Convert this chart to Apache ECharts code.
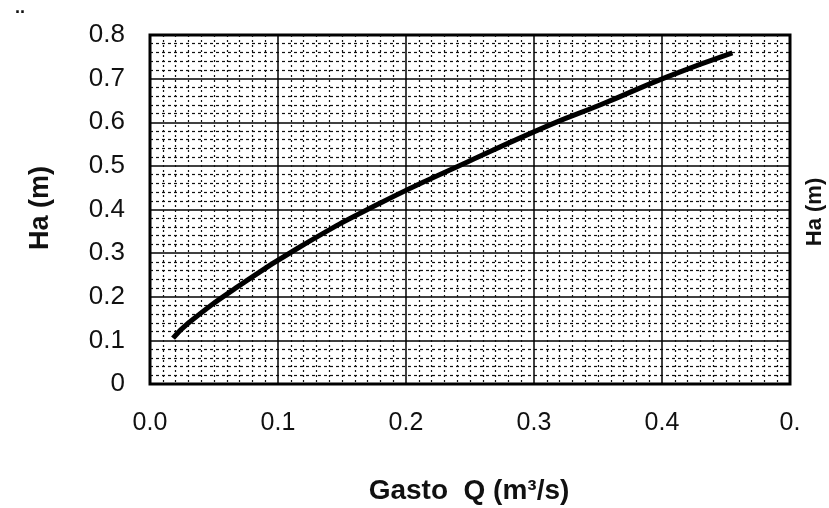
<!DOCTYPE html>
<html>
<head>
<meta charset="utf-8">
<script src="https://cdn.jsdelivr.net/npm/echarts@6/dist/echarts.min.js"></script>
<style>
  html, body { margin: 0; padding: 0; background: #fff; }
  #main { width: 829px; height: 508px; }
</style>
</head>
<body>
<div id="main"></div>
<script>
// Gasto Q (m3/s) vs Ha (m)
const gastoQ = [0.018, 0.03, 0.068, 0.117, 0.18, 0.248, 0.3125, 0.352, 0.404, 0.455];
const cargaHa = [0.105, 0.14, 0.222, 0.314, 0.415, 0.509, 0.594, 0.64, 0.704, 0.759];
const xTickLabels = ['0.0', '0.1', '0.2', '0.3', '0.4', '0.'];
const yTickLabels = ['0', '0.1', '0.2', '0.3', '0.4', '0.5', '0.6', '0.7', '0.8'];

const font = 'Liberation Sans';
const chart = echarts.init(document.getElementById('main'));

const option = {
  animation: false,
  backgroundColor: '#fff',
  grid: {
    left: 150, right: 39, top: 35, bottom: 124,
    show: true, borderColor: '#000', borderWidth: 3
  },
  xAxis: {
    type: 'value', min: 0, max: 0.5, interval: 0.1,
    axisLine: { show: false },
    axisTick: { show: false },
    axisLabel: {
      margin: 27, color: '#111', fontFamily: font, fontSize: 25,
      formatter: (v) => xTickLabels[Math.round(v * 10)]
    },
    splitLine: { show: true, lineStyle: { color: '#000', width: 1.5 } },
    minorTick: { show: false, splitNumber: 10 },
    minorSplitLine: { show: true, lineStyle: { color: '#111', width: 1.2, type: [2, 3] } }
  },
  yAxis: {
    type: 'value', min: 0, max: 0.8, interval: 0.1,
    axisLine: { show: false },
    axisTick: { show: false },
    axisLabel: {
      margin: 25, color: '#111', fontFamily: font, fontSize: 26,
      padding: [0, 0, 20, 0],
      formatter: (v) => yTickLabels[Math.round(v * 10)]
    },
    splitLine: { show: true, lineStyle: { color: '#000', width: 1.5 } },
    minorTick: { show: false, splitNumber: 5 },
    minorSplitLine: { show: true, lineStyle: { color: '#111', width: 1.2, type: [3, 3] } }
  },
  graphic: [
    {
      type: 'text', rotation: Math.PI / 2, x: 41, y: 208,
      style: { text: 'Ha (m)', fontFamily: font, fontWeight: 'bold', fontSize: 27, fill: '#111', align: 'center', verticalAlign: 'middle' }
    },
    {
      type: 'text', rotation: Math.PI / 2, x: 815, y: 212,
      style: { text: 'Ha (m)', fontFamily: font, fontWeight: 'bold', fontSize: 22, fill: '#111', align: 'center', verticalAlign: 'middle' }
    },
    {
      type: 'text', x: 469, y: 491,
      style: { text: 'Gasto  Q (m³/s)', fontFamily: font, fontWeight: 'bold', fontSize: 28, fill: '#111', align: 'center', verticalAlign: 'middle' }
    },
    {
      type: 'text', x: 20, y: 8,
      style: { text: '..', fontFamily: font, fontWeight: 'bold', fontSize: 18, fill: '#111', align: 'center', verticalAlign: 'middle' }
    }
  ],
  series: [
    {
      type: 'line',
      data: gastoQ.map((q, i) => [q, cargaHa[i]]),
      smooth: true,
      showSymbol: false,
      lineStyle: { color: '#000', width: 5 }
    }
  ]
};

chart.setOption(option);
</script>
</body>
</html>
